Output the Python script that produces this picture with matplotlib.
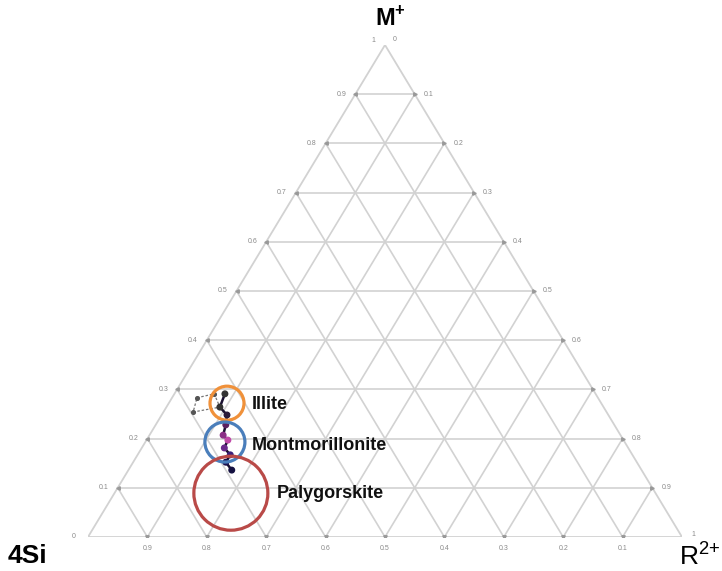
import numpy as np
import matplotlib.pyplot as plt
from matplotlib.patches import Ellipse

plt.rcParams['font.family'] = ['Liberation Sans', 'DejaVu Sans']
plt.rcParams['mathtext.fontset'] = 'custom'
plt.rcParams['mathtext.rm'] = 'Liberation Sans'
plt.rcParams['mathtext.bf'] = 'Liberation Sans:bold'

# ternary values as (M+ fraction, R2+ fraction); 4Si = 1 - M - R
steps = [0.1, 0.2, 0.3, 0.4, 0.5, 0.6, 0.7, 0.8, 0.9]
left_labels = ['0.1', '0.2', '0.3', '0.4', '0.5', '0.6', '0.7', '0.8', '0.9']
right_labels = ['0.1', '0.2', '0.3', '0.4', '0.5', '0.6', '0.7', '0.8', '0.9']
bottom_labels = ['0.9', '0.8', '0.7', '0.6', '0.5', '0.4', '0.3', '0.2', '0.1']

# grey dashed group near illite
grey_M = [0.283, 0.291, 0.264, 0.254]
grey_R = [0.042, 0.067, 0.090, 0.050]

# main chain of samples
chain_M = [0.291, 0.264, 0.248, 0.228, 0.207, 0.197, 0.181, 0.167, 0.152, 0.136]
chain_R = [0.085, 0.090, 0.110, 0.118, 0.124, 0.137, 0.139, 0.156, 0.156, 0.174]
chain_colors = ['#333333', '#333333', '#2a1a3a', '#5a1f5f', '#8b2f86', '#c04aa8',
                '#6a2a8a', '#3b1f7a', '#1a1050', '#141040']

# mineral fields
field_names = ['Illite', 'Montmorillonite', 'Palygorskite']
field_M = [0.272, 0.193, 0.089]
field_R = [0.098, 0.134, 0.196]
field_radius = [17, 20, 37]  # px
field_colors = ['#F0913A', '#4A7EBB', '#B94A48']
label_M = [0.270, 0.185, 0.089]
label_R = [0.141, 0.184, 0.274]

W, H = 722, 571
x0, x1, yb, yt = 88, 682, 537, 45


def tern(m, r):
    m = np.asarray(m, dtype=float)
    r = np.asarray(r, dtype=float)
    return r + m / 2.0, m


fig = plt.figure(figsize=(W / 100, H / 100), dpi=100)
ax = fig.add_axes([x0 / W, 1 - yb / H, (x1 - x0) / W, (yb - yt) / H])
ax.set_xlim(0, 1)
ax.set_ylim(0, 1)
ax.axis('off')

gc = '#d2d2d2'
# edges
ex, ey = tern([0, 0, 1, 0], [0, 1, 0, 0])
ax.plot(ex, ey, color=gc, lw=1.3, zorder=1)
for k in steps:
    # constant M+
    gx, gy = tern([k, k], [0, 1 - k])
    ax.plot(gx, gy, color=gc, lw=1.2, zorder=1)
    # constant R2+
    gx, gy = tern([0, 1 - k], [k, k])
    ax.plot(gx, gy, color=gc, lw=1.2, zorder=1)
    # constant 4Si
    gx, gy = tern([0, 1 - k], [1 - k, 0])
    ax.plot(gx, gy, color=gc, lw=1.2, zorder=1)

tc = '#8a8a8a'
fs = 5
for k, lab in zip(steps, left_labels):
    px, py = tern(k, 0)
    ax.plot(px, py, marker='<', ms=2.5, color='#999999', zorder=2)
    ax.annotate(lab, (px, py), xytext=(-10, 0), textcoords='offset points',
                ha='center', va='center', fontsize=fs, color=tc)
for k, lab in zip(steps, right_labels):
    px, py = tern(1 - k, k)
    ax.plot(px, py, marker='>', ms=2.5, color='#999999', zorder=2)
    ax.annotate(lab, (px, py), xytext=(10, 0), textcoords='offset points',
                ha='center', va='center', fontsize=fs, color=tc)
for k, lab in zip(steps, bottom_labels):
    px, py = tern(0, k)
    ax.plot(px, py, marker='v', ms=2.5, color='#999999', zorder=2)
    ax.annotate(lab, (px, py), xytext=(0, -8), textcoords='offset points',
                ha='center', va='center', fontsize=fs, color=tc)
# vertex labels
for m, r, lab, off in [(0, 0, '0', (-10, 0)), (0, 1, '1', (8, 2)),
                       (1, 0, '1', (-8, 3)), (1, 0, '0', (7, 4))]:
    px, py = tern(m, r)
    ax.annotate(lab, (px, py), xytext=off, textcoords='offset points',
                ha='center', va='center', fontsize=fs, color=tc)

# samples
gx, gy = tern(grey_M + grey_M[:1], grey_R + grey_R[:1])
ax.plot(gx, gy, ls=(0, (2, 1.5)), color='#777777', lw=0.9, zorder=3)
ax.scatter(*tern(grey_M, grey_R), s=7, color='#555555', zorder=4)
cx, cy = tern(chain_M, chain_R)
ax.plot(cx, cy, color='#1a1030', lw=1.8, zorder=3)
ax.scatter(cx, cy, s=16, color=chain_colors, zorder=4)

# mineral fields
for name, m, r, rad, col, lm, lr in zip(field_names, field_M, field_R, field_radius,
                                         field_colors, label_M, label_R):
    fx, fy = tern(m, r)
    ax.add_patch(Ellipse((fx, fy), 2 * rad / (x1 - x0), 2 * rad / (yb - yt),
                         fill=False, ec=col, lw=2.3, zorder=5))
    lx, ly = tern(lm, lr)
    ax.text(lx, ly, name, ha='left', va='center', fontsize=13,
            fontweight='bold', color='#111111', zorder=6)

fig.text(390 / W, 1 - 19 / H, r'M$^{\mathbf{+}}$', ha='center', va='center',
         fontsize=17, fontweight='bold')
fig.text(8 / W, 1 - 556 / H, '4Si', ha='left', va='center', fontsize=19,
         fontweight='bold')
fig.text(720 / W, 1 - 556 / H, r'R$^{2{+}}$', ha='right', va='center', fontsize=19)

fig.savefig('out.png', dpi=100)
